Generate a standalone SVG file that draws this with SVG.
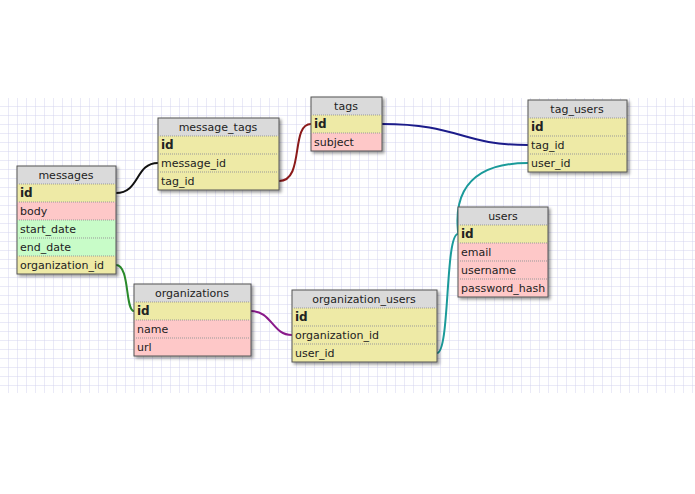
<svg xmlns="http://www.w3.org/2000/svg" width="695" height="494" viewBox="0 0 695 494">
<defs>
<pattern id="g" width="9" height="9" patternUnits="userSpaceOnUse" x="0" y="98"><path d="M9 0V9M0 9H9" fill="none" stroke="#d4d4ee" stroke-width="1"/></pattern>
<filter id="sh" x="-10%" y="-10%" width="130%" height="130%"><feDropShadow dx="2" dy="2" stdDeviation="1.5" flood-color="#000" flood-opacity="0.4"/></filter>
</defs>
<style>
text{font-family:"DejaVu Sans",sans-serif;font-size:11px;fill:#222}
.h{fill:#dadada}.y{fill:#eeeaa6}.r{fill:#fec8c8}.gr{fill:#c8fcc8}
.b{font-weight:bold;font-size:12px}
.box{fill:none;stroke:#555;stroke-width:1}
.sep{stroke:#999;stroke-dasharray:1 1;stroke-width:1}
.c{fill:none;stroke-width:2}
.t{text-anchor:middle}
</style>
<rect width="695" height="494" fill="#fff"/>
<rect x="0" y="98" width="695" height="295" fill="url(#g)"/>
<g id="connectors">
<path class="c" stroke="#111" d="M116 193C140 193 135 163 158 163"/>
<path class="c" stroke="#8b1a1a" d="M279 181C305 181 290 124 311 124"/>
<path class="c" stroke="#1c1c8a" d="M382 124C460 124 460 145 528 145"/>
<path class="c" stroke="#1a9a9a" d="M528 163C440 163 460 234 458 234"/>
<path class="c" stroke="#1a9a9a" d="M437 353C450 353 445 234 458 234"/>
<path class="c" stroke="#2a8a2a" d="M116 265C130 265 125 311 134 311"/>
<path class="c" stroke="#8a1a8a" d="M251 311C272 311 272 335 292 335"/>
</g>
<g id="messages" filter="url(#sh)">
<rect class="h" x="17" y="166" width="99" height="18"/><rect class="y" x="17" y="184" width="99" height="18"/><rect class="r" x="17" y="202" width="99" height="18"/><rect class="gr" x="17" y="220" width="99" height="36"/><rect class="y" x="17" y="256" width="99" height="18"/>
<rect class="box" x="17" y="166" width="99" height="108"/>
</g>
<g id="messages-t"><path class="sep" d="M17 184H116M17 202H116M17 220H116M17 238H116M17 256H116"/>
<text class="t" x="66" y="179">messages</text><text class="b" x="20" y="197">id</text><text x="20" y="215">body</text><text x="20" y="233">start_date</text><text x="20" y="251">end_date</text><text x="20" y="269">organization_id</text></g>
<g id="message_tags" filter="url(#sh)">
<rect class="h" x="158" y="118" width="121" height="18"/><rect class="y" x="158" y="136" width="121" height="54"/>
<rect class="box" x="158" y="118" width="121" height="72"/>
</g>
<g id="message_tags-t"><path class="sep" d="M158 136H279M158 154H279M158 172H279"/>
<text class="t" x="218" y="131">message_tags</text><text class="b" x="161" y="149">id</text><text x="161" y="167">message_id</text><text x="161" y="185">tag_id</text></g>
<g id="tags" filter="url(#sh)">
<rect class="h" x="311" y="97" width="71" height="18"/><rect class="y" x="311" y="115" width="71" height="18"/><rect class="r" x="311" y="133" width="71" height="18"/>
<rect class="box" x="311" y="97" width="71" height="54"/>
</g>
<g id="tags-t"><path class="sep" d="M311 115H382M311 133H382"/>
<text class="t" x="346" y="110">tags</text><text class="b" x="314" y="128">id</text><text x="314" y="146">subject</text></g>
<g id="tag_users" filter="url(#sh)">
<rect class="h" x="528" y="100" width="99" height="18"/><rect class="y" x="528" y="118" width="99" height="54"/>
<rect class="box" x="528" y="100" width="99" height="72"/>
</g>
<g id="tag_users-t"><path class="sep" d="M528 118H627M528 136H627M528 154H627"/>
<text class="t" x="577" y="113">tag_users</text><text class="b" x="531" y="131">id</text><text x="531" y="149">tag_id</text><text x="531" y="167">user_id</text></g>
<g id="users" filter="url(#sh)">
<rect class="h" x="458" y="207" width="90" height="18"/><rect class="y" x="458" y="225" width="90" height="18"/><rect class="r" x="458" y="243" width="90" height="54"/>
<rect class="box" x="458" y="207" width="90" height="90"/>
</g>
<g id="users-t"><path class="sep" d="M458 225H548M458 243H548M458 261H548M458 279H548"/>
<text class="t" x="503" y="220">users</text><text class="b" x="461" y="238">id</text><text x="461" y="256">email</text><text x="461" y="274">username</text><text x="461" y="292">password_hash</text></g>
<g id="organizations" filter="url(#sh)">
<rect class="h" x="134" y="284" width="117" height="18"/><rect class="y" x="134" y="302" width="117" height="18"/><rect class="r" x="134" y="320" width="117" height="36"/>
<rect class="box" x="134" y="284" width="117" height="72"/>
</g>
<g id="organizations-t"><path class="sep" d="M134 302H251M134 320H251M134 338H251"/>
<text class="t" x="192" y="297">organizations</text><text class="b" x="137" y="315">id</text><text x="137" y="333">name</text><text x="137" y="351">url</text></g>
<g id="organization_users" filter="url(#sh)">
<rect class="h" x="292" y="290" width="145" height="18"/><rect class="y" x="292" y="308" width="145" height="54"/>
<rect class="box" x="292" y="290" width="145" height="72"/>
</g>
<g id="organization_users-t"><path class="sep" d="M292 308H437M292 326H437M292 344H437"/>
<text class="t" x="364" y="303">organization_users</text><text class="b" x="295" y="321">id</text><text x="295" y="339">organization_id</text><text x="295" y="357">user_id</text></g>
</svg>
